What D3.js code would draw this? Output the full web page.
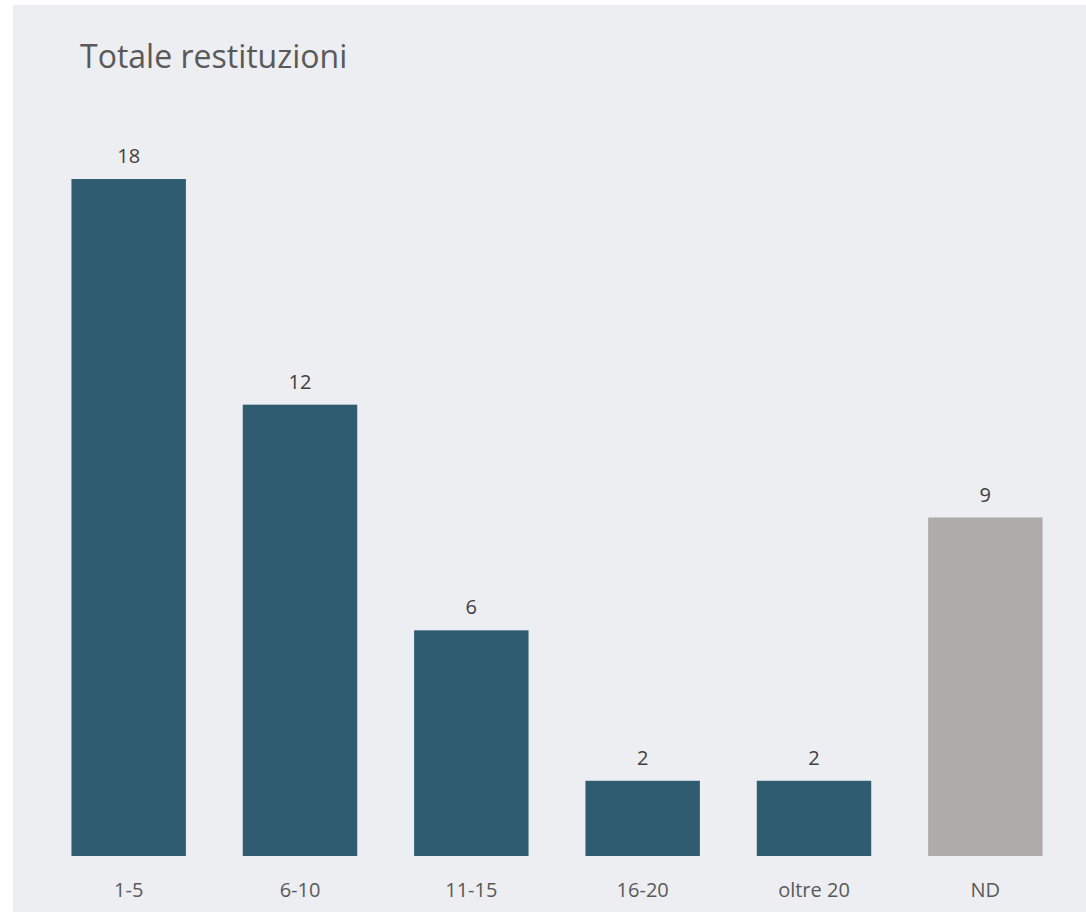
<!DOCTYPE html>
<html><head><meta charset="utf-8">
<script src="https://cdn.jsdelivr.net/npm/d3@7"></script>
<style>html,body{margin:0;padding:0;background:#fff;}svg{display:block;}</style>
</head><body>
<svg id="chart" width="1086" height="912"></svg>
<script>
const categories = ["1-5", "6-10", "11-15", "16-20", "oltre 20", "ND"];
const values = [18, 12, 6, 2, 2, 9];
const barColors = ["#2f5c71", "#2f5c71", "#2f5c71", "#2f5c71", "#2f5c71", "#afabaa"];
const title = "Totale restituzioni";

const svg = d3.select("#chart");
const font = "'Open Sans', 'Noto Sans', sans-serif";

svg.append("rect").attr("x", 13).attr("y", 5).attr("width", 1073).attr("height", 907).attr("fill", "#edeef2");

const x = d3.scaleBand().domain(categories).range([43, 1071]).paddingInner(0.332).paddingOuter(0.166);
const y = d3.scaleLinear().domain([0, 18]).range([856, 179]);

svg.append("text").attr("x", 80).attr("y", 68).attr("font-family", font).attr("font-size", 32)
  .attr("fill", "#595959").text(title);

svg.selectAll("rect.bar").data(values).join("rect").attr("class", "bar")
  .attr("x", (d, i) => x(categories[i])).attr("width", x.bandwidth())
  .attr("y", d => y(d)).attr("height", d => y(0) - y(d))
  .attr("fill", (d, i) => barColors[i]);

svg.selectAll("text.val").data(values).join("text").attr("class", "val")
  .attr("x", (d, i) => x(categories[i]) + x.bandwidth() / 2)
  .attr("y", d => y(d) - 16)
  .attr("text-anchor", "middle").attr("font-family", font).attr("font-size", 20)
  .attr("fill", "#404040").text(d => d);

const axis = d3.axisBottom(x).tickSize(0).tickPadding(0);
const g = svg.append("g").attr("transform", "translate(0,856)").call(axis);
g.select(".domain").remove();
g.selectAll("text").attr("y", 41).attr("dy", 0).attr("font-family", font).attr("font-size", 20).attr("fill", "#595959");
</script>
</body></html>
